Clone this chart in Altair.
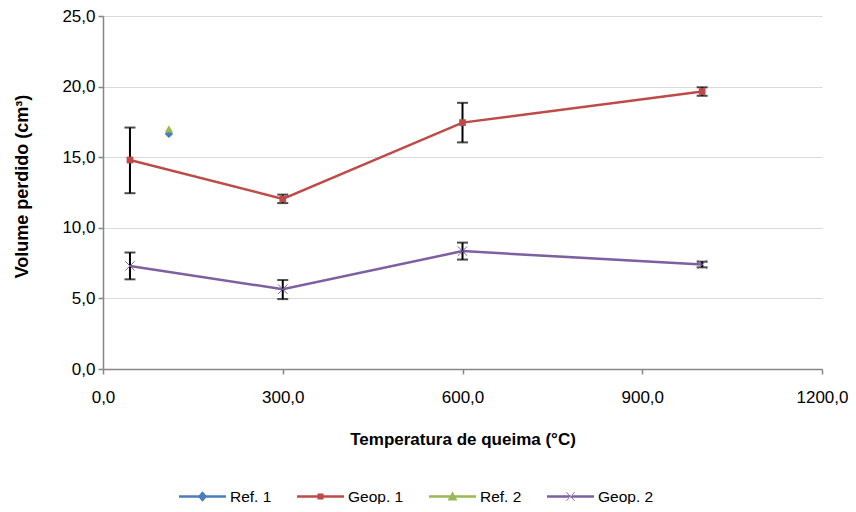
import altair as alt
import pandas as pd

series_names = ["Ref. 1", "Geop. 1", "Ref. 2", "Geop. 2"]
series_colors = ["#4a7ebb", "#be4b48", "#98b954", "#7d60a0"]

ref1_x = [110]
ref1_y = [16.65]
ref2_x = [110]
ref2_y = [17.0]

geop1_x = [45, 300, 600, 1000]
geop1_y = [14.8, 12.05, 17.45, 19.65]
geop1_lo = [12.45, 11.75, 16.05, 19.35]
geop1_hi = [17.1, 12.35, 18.85, 19.95]

geop2_x = [45, 300, 600, 1000]
geop2_y = [7.3, 5.65, 8.35, 7.4]
geop2_lo = [6.35, 4.95, 7.75, 7.2]
geop2_hi = [8.25, 6.3, 8.95, 7.6]

x_ticks = [0, 300, 600, 900, 1200]
y_ticks = [0, 5, 10, 15, 20, 25]

rows = []
for x, y in zip(ref1_x, ref1_y):
    rows.append({"s": "Ref. 1", "x": x, "y": y, "lo": None, "hi": None})
for x, y, lo, hi in zip(geop1_x, geop1_y, geop1_lo, geop1_hi):
    rows.append({"s": "Geop. 1", "x": x, "y": y, "lo": lo, "hi": hi})
for x, y in zip(ref2_x, ref2_y):
    rows.append({"s": "Ref. 2", "x": x, "y": y, "lo": None, "hi": None})
for x, y, lo, hi in zip(geop2_x, geop2_y, geop2_lo, geop2_hi):
    rows.append({"s": "Geop. 2", "x": x, "y": y, "lo": lo, "hi": hi})
df = pd.DataFrame(rows)

FONT = "Liberation Sans"
COMMA = "replace(format(datum.value, '.1f'), '.', ',')"
xscale = alt.Scale(domain=[0, 1200], nice=False)
yscale = alt.Scale(domain=[0, 25], nice=False)
cscale = alt.Scale(domain=series_names, range=series_colors)

# legend glyphs: line segment + marker, as filled paths
L = "M-1,-0.055L1,-0.055L1,0.055L-1,0.055Z"
legend_shapes = [
    L + "M0,-0.22L0.2,0L0,0.22L-0.2,0Z",
    L + "M-0.13,-0.13L0.13,-0.13L0.13,0.13L-0.13,0.13Z",
    L + "M0,-0.22L0.21,0.17L-0.21,0.17Z",
    L + "M-0.19,-0.17L-0.17,-0.19L0.19,0.17L0.17,0.19Z"
      + "M0.19,-0.17L0.17,-0.19L-0.19,0.17L-0.17,0.19Z",
]

leg = alt.Legend(title=None, orient="none", direction="horizontal",
                 legendX=76, legendY=457, symbolSize=2209,
                 symbolStrokeWidth=0, labelOffset=4, padding=0,
                 labelFont=FONT, labelFontSize=15.5, labelColor="#000",
                 columnPadding=25)

base = alt.Chart(df)

x_enc = alt.X("x:Q", scale=xscale,
              axis=alt.Axis(title="Temperatura de queima (°C)", values=x_ticks,
                            labelExpr=COMMA, grid=False, tickSize=5, labelPadding=15,
                            labelFlush=False, titleY=70, titleBaseline="middle"))
y_enc = alt.Y("y:Q", scale=yscale,
              axis=alt.Axis(title="Volume perdido (cm³)", values=y_ticks,
                            labelExpr=COMMA, grid=True, tickSize=5, labelPadding=3,
                            titleX=-81, titleY=170, titleFontSize=18,
                            titleBaseline="middle"))

# legend-only layer (draws nothing in the plot: zero-size points)
legend_layer = base.mark_point(filled=True, opacity=1, size=0).encode(
    x=x_enc, y=y_enc,
    color=alt.Color("s:N", scale=cscale, legend=leg),
    shape=alt.Shape("s:N", scale=alt.Scale(domain=series_names, range=legend_shapes),
                    legend=leg))

lines = base.transform_filter("datum.s == 'Geop. 1' || datum.s == 'Geop. 2'").mark_line(
    strokeWidth=2.5).encode(x="x:Q", y="y:Q", stroke=alt.Stroke("s:N", scale=cscale, legend=None))

errdata = base.transform_filter("datum.lo != null")
err = errdata.mark_rule(color="black", strokeWidth=2).encode(x="x:Q", y="lo:Q", y2="hi:Q")
cap_lo = errdata.mark_tick(color="black", thickness=2, size=11, orient="horizontal").encode(
    x="x:Q", y="lo:Q")
cap_hi = errdata.mark_tick(color="black", thickness=2, size=11, orient="horizontal").encode(
    x="x:Q", y="hi:Q")

def sel(name):
    return base.transform_filter(f"datum.s == '{name}'")

m_ref1 = sel("Ref. 1").mark_point(shape="diamond", filled=True, size=70, opacity=1,
                                  color=series_colors[0]).encode(x="x:Q", y="y:Q")
m_geo1 = sel("Geop. 1").mark_point(shape="square", filled=True, size=45, opacity=1,
                                   color=series_colors[1]).encode(x="x:Q", y="y:Q")
m_ref2 = sel("Ref. 2").mark_point(shape="triangle-up", filled=True, size=70, opacity=1,
                                  color=series_colors[2]).encode(x="x:Q", y="y:Q")
m_geo2 = sel("Geop. 2").mark_point(shape="M-1,-1L1,1M1,-1L-1,1", filled=False, size=90,
                                   strokeWidth=1, opacity=1,
                                   color=series_colors[3]).encode(x="x:Q", y="y:Q")

chart = alt.layer(legend_layer, lines, err, cap_lo, cap_hi, m_geo1, m_geo2, m_ref1, m_ref2
                  ).properties(
    width=719, height=353,
    autosize=alt.AutoSizeParams(type="none"),
    padding={"left": 95, "top": 8, "right": 26, "bottom": 135}
).configure_view(stroke=None).configure_axis(
    labelFont=FONT, labelFontSize=17, labelColor="#000", titleFont=FONT, titleFontSize=17,
    titleFontWeight="bold", titleColor="#000", domainColor="#868686", tickColor="#868686",
    gridColor="#d9d9d9", domainWidth=1.5, tickWidth=1.5, gridWidth=1.2
)

chart.save("out.html", embed_options={"renderer": "svg", "actions": False})
